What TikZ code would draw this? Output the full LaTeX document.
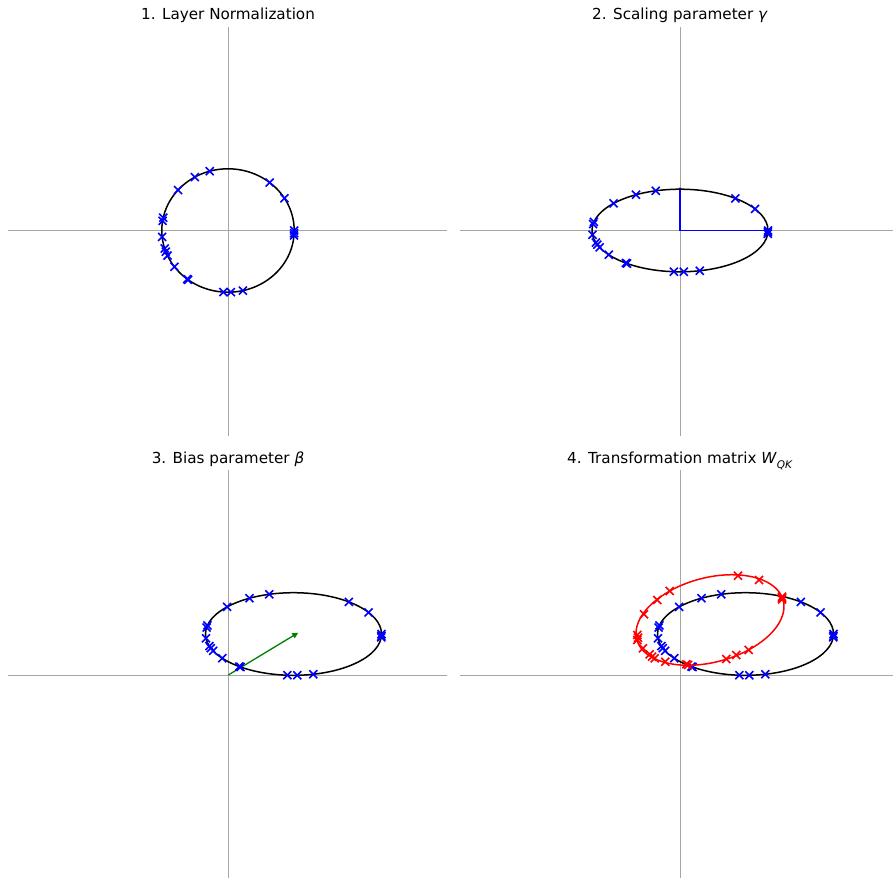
\documentclass[tikz,border=0pt]{standalone}
\usepackage{fontspec}
\setmainfont{DejaVu Sans}
\usetikzlibrary{arrows.meta}
\begin{document}
\begin{tikzpicture}[x=1pt,y=-1pt,
  axis/.style={draw=black!35, line width=0.9pt},
  curve/.style={draw=black, line width=1.5pt},
  redcurve/.style={draw=red, line width=1.5pt},
  ttl/.style={anchor=base, font=\fontsize{15.2}{18}\selectfont, inner sep=0pt},
  xm/.pic={\draw[line width=1.6pt] (-4,-4) -- (4,4) (-4,4) -- (4,-4);}]
\useasboundingbox[fill=white] (0,0) rectangle (894,880);
% axes
\draw[axis] (8,230.5) -- (447,230.5) (228,27) -- (228,435.5);
\draw[axis] (460,230.5) -- (893,230.5) (680,27) -- (680,435.5);
\draw[axis] (8,675) -- (447,675) (228,470) -- (228,878);
\draw[axis] (460,675) -- (893,675) (680,470) -- (680,878);
% titles
\node[ttl] (t1) at (228,19.5) {1. Layer Normalization};
\node[ttl] (t2) at (680,19.5) {2. Scaling parameter \textit{γ}};
\node[ttl] (t3) at (228,463.5) {3. Bias parameter \textit{β}};
\node[ttl] (t4) at (680,463.5) {4. Transformation matrix \textit{W}\raisebox{-0.33em}{\fontsize{10.5}{12}\selectfont\textit{QK}}};
% gamma lines
\draw[blue, line width=1.3pt, -{Triangle[length=2pt,width=3pt]}] (680,230.5) -- (680,187.3);
\draw[blue, line width=1.3pt] (680,230.5) -- (768,230.5);
% beta arrow
\draw[green!50!black, line width=1.3pt, -{Triangle[length=6pt,width=5.5pt]}] (228.3,675) -- (298.3,632.7);
% ellipses and blue markers
\foreach \cx/\cy/\rx/\ry in {228/230.5/66.2/61.7, 680/230.5/88/41.3, 293.5/634/88/41.3, 745.5/634/88/41.3}{
  \draw[curve] (\cx,\cy) ellipse [x radius=\rx, y radius=\ry];
  \foreach \t in {106,120,139,168,171,186,197,200,204,216,232,233,266,272.5,283,51,31.5,0,-2.5,-4.6}
    \path ({\cx+\rx*cos(\t)},{\cy-\ry*sin(\t)}) pic[blue]{xm};
}
% red ellipse
\draw[redcurve] plot[domain=0:360, samples=120, smooth cycle] ({710+72*cos(\x)-17*sin(\x)},{620-23*cos(\x)-39*sin(\x)});
\foreach \px/\py in {738/575.7, 759/580, 782/596.7, 782/598, 782/599.5, 669.7/591, 657.3/600, 644/614.3, 637.3/635, 638/637.7, 637.3/640, 643/648.3, 649.7/654.3, 652/656.7, 654.7/658.3, 665.3/661.7, 686.3/664.3, 688/665, 726.3/659, 736.3/655, 748.7/650}
  \path (\px,\py) pic[red]{xm};
\end{tikzpicture}
\end{document}
